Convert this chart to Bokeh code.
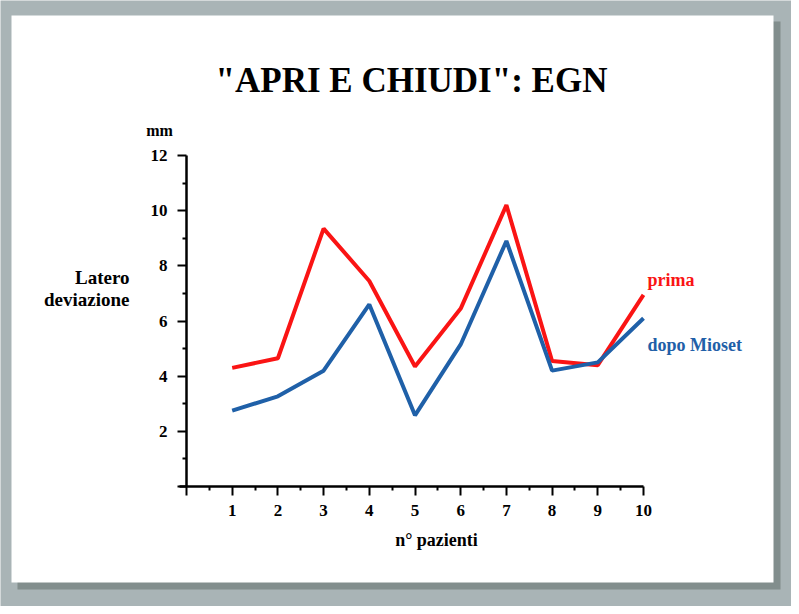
from bokeh.plotting import figure
from bokeh.models import FixedTicker, Label, BoxAnnotation, Range1d, LinearAxis
from bokeh.embed import file_html
from bokeh.resources import INLINE

# ---- data ----
pazienti = [1, 2, 3, 4, 5, 6, 7, 8, 9, 10]
prima = [4.3, 4.65, 9.35, 7.45, 4.35, 6.45, 10.2, 4.55, 4.4, 6.95]
dopo_mioset = [2.75, 3.27, 4.2, 6.6, 2.58, 5.15, 8.9, 4.2, 4.5, 6.1]
x_ticks = [0, 1, 2, 3, 4, 5, 6, 7, 8, 9, 10]
x_minor = [0.5, 1.5, 2.5, 3.5, 4.5, 5.5, 6.5, 7.5, 8.5, 9.5]
y_ticks = [0, 2, 4, 6, 8, 10, 12]
y_minor = [1, 3, 5, 7, 9, 11]

RED = "#fa1414"
BLUE = "#1f60a8"
GRAY = "#a9b4b6"
FONT = "Liberation Serif"

# canvas size and where the data box (0..10 x 0..12) sits on it, in pixels
W, H = 791, 606
FL, FR, FT, FB = 186, 643, 155, 486
SX = (FR - FL) / 10.0
SY = (FB - FT) / 12.0


def dx(px):
    return (px - FL) / SX


def dy(py):
    return (FB - py) / SY


p = figure(width=W, height=H, output_backend="svg", toolbar_location=None,
           x_range=Range1d(dx(0), dx(W)), y_range=Range1d(dy(H), dy(0)),
           x_axis_location=None, y_axis_location=None,
           min_border=0, min_border_left=0, min_border_right=0,
           min_border_top=0, min_border_bottom=0)
p.border_fill_color = GRAY
p.background_fill_color = GRAY
p.outline_line_color = None
p.grid.visible = False

# card + shadow
p.add_layout(BoxAnnotation(left=dx(17), right=dx(780), top=dy(21), bottom=dy(589),
                           fill_color="#76817f", fill_alpha=0.75, line_color=None,
                           level="underlay"))
p.add_layout(BoxAnnotation(left=dx(11), right=dx(773), top=dy(15), bottom=dy(582),
                           fill_color="white", fill_alpha=1.0, line_color=None,
                           level="underlay"))

p.line(pazienti, prima, line_color=RED, line_width=4)
p.line(pazienti, dopo_mioset, line_color=BLUE, line_width=4)

xaxis = LinearAxis(fixed_location=0, bounds=(-0.15, 10),
                   ticker=FixedTicker(ticks=x_ticks, minor_ticks=x_minor),
                   major_label_overrides={0: ""}, major_label_standoff=9)
yaxis = LinearAxis(fixed_location=0, bounds=(0, 12),
                   ticker=FixedTicker(ticks=y_ticks, minor_ticks=y_minor),
                   major_label_overrides={0: ""}, major_label_standoff=10)
for ax in (xaxis, yaxis):
    ax.axis_line_width = 2.5
    ax.axis_line_color = "black"
    ax.major_tick_line_width = 2
    ax.minor_tick_line_width = 2
    ax.major_tick_in = 0
    ax.minor_tick_in = 0
    ax.major_tick_out = 9
    ax.minor_tick_out = 4
    ax.major_label_text_font = FONT
    ax.major_label_text_font_style = "bold"
    ax.major_label_text_font_size = "17px"
    ax.major_label_text_color = "black"
p.add_layout(xaxis, "below")
p.add_layout(yaxis, "left")


def lab(px, py, text, size, color="black", align="center"):
    p.add_layout(Label(x=dx(px), y=dy(py), text=text,
                       text_font=FONT, text_font_style="bold",
                       text_font_size=size, text_color=color,
                       text_align=align, text_baseline="middle"))


lab(411, 80, '"APRI E CHIUDI": EGN', "35px")
lab(159, 130, "mm", "16px")
lab(129, 277, "Latero", "19px", align="right")
lab(129, 299, "deviazione", "19px", align="right")
lab(436, 539, "n° pazienti", "18px")
lab(647, 279, "prima", "18px", color=RED, align="left")
lab(647, 344, "dopo Mioset", "18px", color=BLUE, align="left")

open("out.html", "w").write(file_html(p, INLINE))
